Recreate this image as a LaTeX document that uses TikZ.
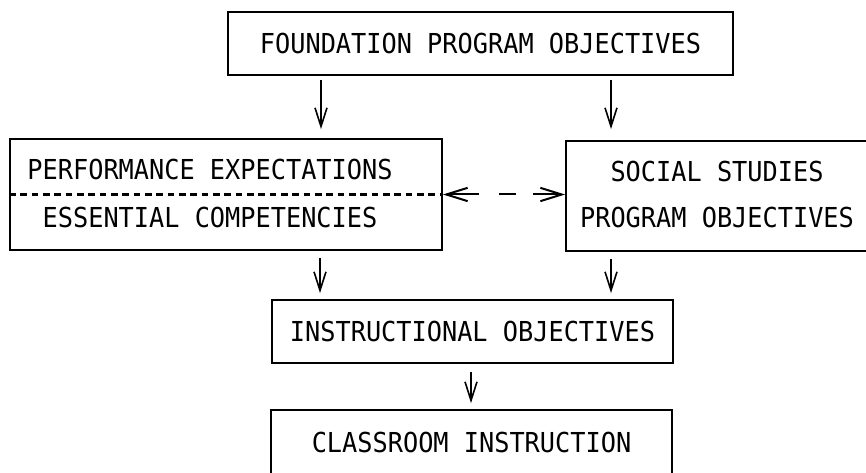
\documentclass[tikz,border=0pt]{standalone}
\usepackage{fontspec}
\newfontfamily\scanfont[FakeStretch=0.92]{DejaVu Sans Mono}
\usetikzlibrary{arrows.meta}

\begin{document}
\begin{tikzpicture}[x=0.75pt,y=-0.75pt,>={Straight Barb[length=14pt,width=9pt]},
    every node/.style={font=\scanfont\fontsize{20.6}{24}\selectfont},
    objbox/.style={shape=rectangle,draw,line width=1.4pt,inner sep=0pt},
    flow/.style={->,line width=1.2pt}]
    \useasboundingbox (0,0) rectangle (866,473);
    \clip (0,0) rectangle (866,473);
	% create the nodes
    \node (found)[objbox, minimum width=378.75pt, minimum height=47.25pt] at (480.5,43.5) {FOUNDATION PROGRAM OBJECTIVES};
    \node (perf)[objbox, minimum width=324pt, minimum height=83.25pt] at (226,194.5) {};
    \node (perfup) at (210,170) {PERFORMANCE EXPECTATIONS};
    \node (perflow) at (210,218) {ESSENTIAL COMPETENCIES};
    \node (social)[objbox, minimum width=240pt, minimum height=82.5pt] at (726,196) {};
    \node (socup) at (717,172) {SOCIAL STUDIES};
    \node (soclow) at (717,218) {PROGRAM OBJECTIVES};
    \node (instr)[objbox, minimum width=300.75pt, minimum height=47.25pt] at (472.5,331.5) {INSTRUCTIONAL OBJECTIVES};
    \node (class)[objbox, minimum width=300.75pt, minimum height=48pt] at (471.5,442) {CLASSROOM INSTRUCTION};

	% connect the nodes
    \draw[line width=1.6pt, dash pattern=on 5pt off 3.5pt] (perf.west) -- (perf.east);
    \draw[flow, shorten <=3pt, shorten >=6.75pt] (found.south -| 321,0) to (perf.north -| 321,0);
    \draw[flow, shorten <=3pt, shorten >=8.25pt] (found.south -| 611,0) to (social.north -| 611,0);
    \draw[<->, line width=1.5pt, >={Straight Barb[length=16pt,width=10pt]}, dash pattern=on 24pt off 15pt on 12.75pt off 12.75pt on 30pt] (perf.east) to (social.west |- perf.east);
    \draw[flow, shorten <=5.5pt, shorten >=4.5pt] (perf.south -| 320,0) to (instr.north -| 320,0);
    \draw[flow, shorten <=5.5pt, shorten >=4.5pt] (social.south -| 611,0) to (instr.north -| 611,0);
    \draw[flow, shorten <=6pt, shorten >=4.5pt] (instr.south -| 471,0) to (class.north -| 471,0);

\end{tikzpicture}
\end{document}
